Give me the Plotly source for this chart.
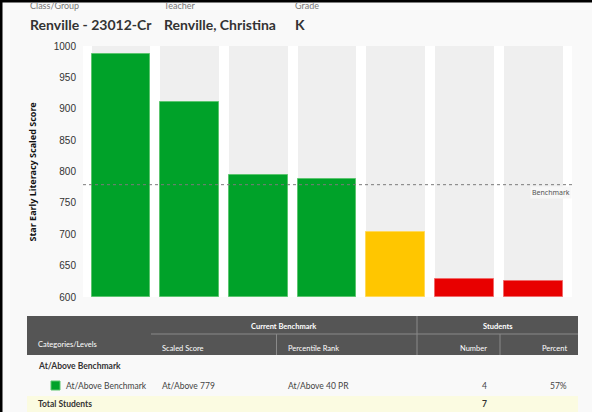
import plotly.graph_objects as go

# ---- data ----
students = ["Student 1", "Student 2", "Student 3", "Student 4", "Student 5", "Student 6", "Student 7"]
scores = [987, 911, 794, 788, 704, 628, 626]
bar_colors = ["#00a229", "#00a229", "#00a229", "#00a229", "#ffc600", "#e80000", "#e80000"]
edge_colors = ["#5cc56f", "#5cc56f", "#5cc56f", "#5cc56f", "#ffd95c", "#f06a6a", "#f06a6a"]
axis_min, axis_max = 600, 1000
y_ticks = [600, 650, 700, 750, 800, 850, 900, 950, 1000]
benchmark = 779

class_group = "Renville - 23012-Cr"
teacher = "Renville, Christina"
grade = "K"

W, H = 592, 412
L, R, T, B = 83, 572, 46, 297  # plot area in pixels


def PX(x):
    return (x - L) / (R - L)


def PY(y):
    return (B - y) / (B - T)


fig = go.Figure()
fig.add_trace(go.Bar(
    x=students, y=[axis_max - axis_min] * len(students), base=axis_min,
    marker=dict(color="#efefef", line=dict(width=0)), width=0.854,
    hoverinfo="skip", showlegend=False))
fig.add_trace(go.Bar(
    x=students, y=[s - axis_min for s in scores], base=axis_min,
    marker=dict(color=bar_colors, line=dict(color=edge_colors, width=1)), width=0.854,
    showlegend=False))

shapes = []
annotations = []

# benchmark line
shapes.append(dict(type="line", xref="paper", yref="y", x0=0, x1=1, y0=benchmark, y1=benchmark,
                   line=dict(color="#7a7a7a", width=1, dash="3px,3px"), layer="above"))
annotations.append(dict(xref="paper", yref="y", x=1, y=benchmark, yshift=-8, xanchor="right",
                        yanchor="middle", text="Benchmark", showarrow=False,
                        font=dict(family="Noto Sans", size=7, color="#555"),
                        bgcolor="#f7f7f7"))

# y title
annotations.append(dict(xref="paper", yref="paper", x=PX(31.5), y=PY(172), xanchor="center",
                        yanchor="middle", textangle=-90, showarrow=False,
                        text="<b>Star Early Literacy Scaled Score</b>",
                        font=dict(family="Noto Sans", size=9, color="#111")))

# header
hdr_font_small = dict(family="Lato", size=9, color="#777")
hdr_font_big = dict(family="Lato", size=14, color="#333")
for x0, lab, val in [(28, "Class/Group", class_group), (162, "Teacher", teacher), (293, "Grade", grade)]:
    annotations.append(dict(xref="paper", yref="paper", x=PX(x0), y=PY(6), xanchor="left",
                            yanchor="middle", text=lab, showarrow=False, font=hdr_font_small))
    annotations.append(dict(xref="paper", yref="paper", x=PX(x0), y=PY(24), xanchor="left",
                            yanchor="middle", text="<b>%s</b>" % val, showarrow=False, font=hdr_font_big))

# black frame
shapes.append(dict(type="rect", xref="paper", yref="paper", x0=PX(-5), x1=PX(W + 5), y0=PY(2.5), y1=PY(-5),
                   fillcolor="#000", line=dict(width=0), layer="above"))
shapes.append(dict(type="rect", xref="paper", yref="paper", x0=PX(-5), x1=PX(2.5), y0=PY(-5), y1=PY(H + 5),
                   fillcolor="#000", line=dict(width=0), layer="above"))

# table
tx0, tx1 = 27, 578
shapes.append(dict(type="rect", xref="paper", yref="paper", x0=PX(tx0), x1=PX(tx1), y0=PY(316), y1=PY(355),
                   fillcolor="#555555", line=dict(width=0)))
line_c = "#8a8a8a"
shapes.append(dict(type="line", xref="paper", yref="paper", x0=PX(151), x1=PX(tx1), y0=PY(334), y1=PY(334),
                   line=dict(color=line_c, width=1)))
shapes.append(dict(type="line", xref="paper", yref="paper", x0=PX(417), x1=PX(417), y0=PY(316), y1=PY(355),
                   line=dict(color=line_c, width=1)))
shapes.append(dict(type="line", xref="paper", yref="paper", x0=PX(276.5), x1=PX(276.5), y0=PY(334), y1=PY(355),
                   line=dict(color=line_c, width=1)))
shapes.append(dict(type="line", xref="paper", yref="paper", x0=PX(500), x1=PX(500), y0=PY(334), y1=PY(355),
                   line=dict(color=line_c, width=1)))
# total row
shapes.append(dict(type="rect", xref="paper", yref="paper", x0=PX(tx0), x1=PX(tx1), y0=PY(396), y1=PY(414),
                   fillcolor="#fbfbe1", line=dict(width=0)))
# legend square
shapes.append(dict(type="rect", xref="paper", yref="paper", x0=PX(51), x1=PX(60), y0=PY(381), y1=PY(390),
                   fillcolor="#00a229", line=dict(color="#5cc56f", width=1)))

tf = "Lato"


def T_(x, y, text, anchor="left", size=7.5, color="#fff", bold=False):
    annotations.append(dict(xref="paper", yref="paper", x=PX(x), y=PY(y), xanchor=anchor,
                            yanchor="middle", showarrow=False,
                            text=("<b>%s</b>" % text) if bold else text,
                            font=dict(family=tf, size=size, color=color)))


T_(284, 326, "Current Benchmark", anchor="center", bold=True)
T_(497.5, 326, "Students", anchor="center", bold=True)
T_(36, 344, "Categories/Levels")
T_(160, 348, "Scaled Score")
T_(286, 348, "Percentile Rank")
T_(489, 348, "Number", anchor="right")
T_(569, 348, "Percent", anchor="right")
T_(36, 366, "At/Above Benchmark", size=8.5, color="#333", bold=True)
T_(64, 386, "At/Above Benchmark", size=8.5, color="#444")
T_(160, 386, "At/Above 779", size=8.5, color="#444")
T_(286, 386, "At/Above 40 PR", size=8.5, color="#444")
T_(489, 386, "4", anchor="right", size=8.5, color="#444")
T_(569, 386, "57%", anchor="right", size=8.5, color="#444")
T_(36, 404, "Total Students", size=8.5, color="#333", bold=True)
T_(489, 404, "7", anchor="right", size=8.5, color="#333", bold=True)

fig.update_layout(
    width=W, height=H,
    margin=dict(l=L, r=W - R, t=T, b=H - B, pad=0),
    paper_bgcolor="#f9f9f9", plot_bgcolor="#ffffff",
    barmode="overlay", bargap=0,
    xaxis=dict(visible=False, range=[-0.553, 6.565]),
    yaxis=dict(range=[axis_min, axis_max], tickvals=y_ticks, showgrid=False, zeroline=False,
               showline=False, ticks="", ticklabelstandoff=6,
               tickfont=dict(family="Liberation Sans", size=10, color="#333")),
    shapes=shapes, annotations=annotations,
)

fig.write_html("out.html", config={"displayModeBar": False},
               post_script="document.body.style.margin='0';document.body.style.overflow='hidden';")
